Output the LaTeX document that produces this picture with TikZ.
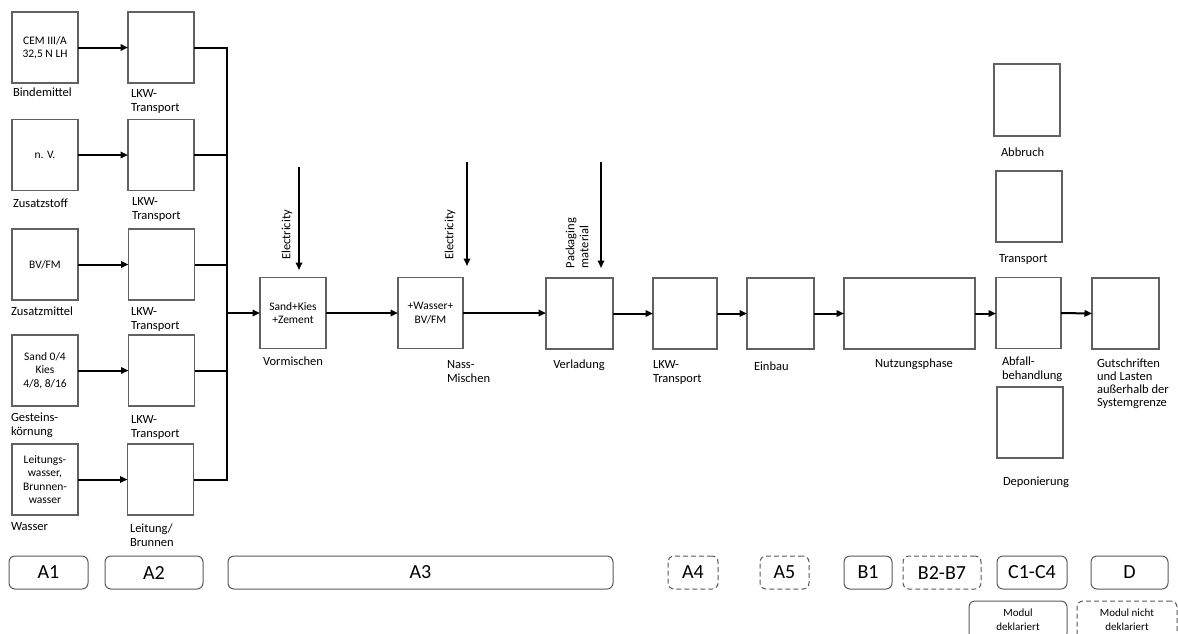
\documentclass[tikz,border=0pt]{standalone}
\usepackage{fontspec}
\setmainfont{Carlito}
\usetikzlibrary{arrows.meta}
\begin{document}
\begin{tikzpicture}[x=1pt,y=1pt,
 box/.style={draw=black!62, line width=1.1pt, inner sep=0pt, outer sep=0pt, minimum width=66pt, minimum height=71pt, align=center, font=\fontsize{11.5}{13.5}\selectfont},
 lab/.style={inner sep=0pt, outer sep=0pt, align=left, anchor=north west, font=\fontsize{12.5}{14}\selectfont},
 clab/.style={lab, anchor=north, align=center},
 conn/.style={line width=2pt, black},
 arr/.style={conn, -{Triangle[length=7.5pt,width=6.5pt]}},
 phase/.style={draw=black!65, line width=1pt, rounded corners=6pt, minimum height=33pt, inner sep=0pt, font=\fontsize{20}{24}\selectfont},
 phasedash/.style={phase, dash pattern=on 5pt off 3pt},
 legend/.style={minimum height=38pt, align=center, font=\fontsize{11}{14}\selectfont},
]
\useasboundingbox (0,-633) rectangle (1178,0);
\clip (0,-633) rectangle (1178,0);

% A1 / A2 column
\node[box] (cem) at (45,-47.5) {CEM III/A\\32,5 N LH};
\node[box] (lkw1) at (161,-47.5) {};
\node[box] (nv) at (45,-155) {n. V.};
\node[box] (lkw2) at (161,-155) {};
\node[box] (bv) at (45,-264.5) {BV/FM};
\node[box] (lkw3) at (161.5,-264.5) {};
\node[box] (sand) at (45,-370.5) {Sand 0/4\\Kies\\4/8, 8/16};
\node[box] (lkw4) at (161.5,-370.5) {};
\node[box] (wass) at (45,-479.5) {Leitungs-\\wasser,\\Brunnen-\\wasser};
\node[box] (leit) at (160.5,-479.5) {};

% main row
\node[box] (vor) at (293,-313) {Sand+Kies\\+Zement};
\node[box, minimum width=65pt] (nass) at (430.5,-313) {+Wasser+\\BV/FM};
\node[box, minimum width=67pt] (verl) at (579.5,-313.5) {};
\node[box, minimum width=64pt] (lkw5) at (685,-313.5) {};
\node[box, minimum width=67pt] (einb) at (780.5,-313.5) {};
\node[box, minimum width=131pt] (nutz) at (909.5,-313.5) {};
\node[box, minimum width=65pt] (abf) at (1028.5,-313) {};
\node[box, minimum width=67pt] (gut) at (1125.5,-313.5) {};
\node[box, minimum height=72pt] (abbr) at (1027,-100) {};
\node[box] (trans) at (1029,-206.5) {};
\node[box] (depo) at (1030,-422.5) {};

% labels
\node[lab] (lbind) at (13,-88) {Bindemittel};
\node[lab] (llkw1) at (131,-89) {LKW-\\Transport};
\node[lab] (lzst) at (13,-199) {Zusatzstoff};
\node[lab] (llkw2) at (132,-197) {LKW-\\Transport};
\node[lab] (lzm) at (11,-307) {Zusatzmittel};
\node[lab] (llkw3) at (131,-307) {LKW-\\Transport};
\node[lab] (lgk) at (11,-413) {Gesteins-\\körnung};
\node[lab] (llkw4) at (131,-415) {LKW-\\Transport};
\node[lab] (lwas) at (11,-522) {Wasser};
\node[lab] (lleit) at (130,-524) {Leitung/\\Brunnen};

\node[clab] (lvor) at (293,-357) {Vormischen};
\node[lab] (lnass) at (447,-360) {Nass-\\Mischen};
\node[clab] (lverl) at (579,-360) {Verladung};
\node[lab] (llkw5) at (653,-360) {LKW-\\Transport};
\node[lab] (leinb) at (754,-362) {Einbau};
\node[clab] (lnutz) at (914,-359) {Nutzungsphase};
\node[lab] (labf) at (1002,-357) {Abfall-\\behandlung};
\node[lab, font=\fontsize{12.5}{13}\selectfont] (lgut) at (1097,-359) {Gutschriften\\und Lasten\\außerhalb der\\Systemgrenze};
\node[lab] (labbr) at (1001,-148) {Abbruch};
\node[lab] (ltrans) at (999,-254) {Transport};
\node[lab] (ldepo) at (1003,-477) {Deponierung};

\node[lab, rotate=90, anchor=center] (el1) at (287,-235) {Electricity};
\node[lab, rotate=90, anchor=center] (el2) at (450,-235) {Electricity};
\node[lab, rotate=90, anchor=west] (pack) at (577,-268) {Packaging\\material};

% input arrows
\coordinate (e1a) at (299,-167); \coordinate (e1b) at (299,-270);
\coordinate (e2a) at (467,-162); \coordinate (e2b) at (467,-266);
\coordinate (pka) at (601,-162); \coordinate (pkb) at (601,-268);
\draw[arr] (e1a) -- (e1b);
\draw[arr] (e2a) -- (e2b);
\draw[arr] (pka) -- (pkb);

% A1 -> A2
\draw[arr] (cem.east) -- (lkw1.west);
\draw[arr] (nv.east) -- (lkw2.west);
\draw[arr] (bv.east) -- (lkw3.west);
\draw[arr] (sand.east) -- (lkw4.west);
\draw[arr] (wass.east) -- (leit.west);

% bus
\coordinate (bt) at (227,-47.5);
\coordinate (bb) at (227,-479.5);
\coordinate (bm) at (227,-313);
\draw[conn] (lkw1.east) -- (bt) -- (bb) -- (leit.east);
\draw[conn] (lkw2.east) -- (lkw2.east -| bt);
\draw[conn] (lkw3.east) -- (lkw3.east -| bt);
\draw[conn] (lkw4.east) -- (lkw4.east -| bt);
\draw[arr] (bm) -- (vor.west);

% main flow
\draw[arr] (vor.east) -- (nass.west);
\draw[arr] (nass.east) -- (nass.east -| verl.west);
\draw[arr] (verl.east) -- (lkw5.west);
\draw[arr] (lkw5.east) -- (einb.west);
\draw[arr] (einb.east) -- (nutz.west);
\draw[arr] (nutz.east) -- (nutz.east -| abf.west);
\draw[arr] (abf.east) -- (gut.west);

% phases
\node[phase, minimum width=79pt] (a1) at (48.5,-572.5) {A1};
\node[phase, minimum width=98pt] (a2) at (154,-572.5) {A2};
\node[phase, minimum width=385pt] (a3) at (420.5,-572.5) {A3};
\node[phasedash, minimum width=50pt] (a4) at (693,-572.5) {A4};
\node[phasedash, minimum width=49pt] (a5) at (784.5,-572.5) {A5};
\node[phase, minimum width=48pt] (b1) at (868,-572.5) {B1};
\node[phasedash, minimum width=78pt] (b2) at (942,-572.5) {B2-B7};
\node[phase, minimum width=70pt] (c1) at (1032,-572.5) {C1-C4};
\node[phase, minimum width=77pt] (d) at (1129.5,-572.5) {D};

\node[phase, legend, minimum width=98pt] (leg1) at (1018,-620) {Modul\\deklariert};
\node[phasedash, legend, minimum width=100pt] (leg2) at (1127,-620) {Modul nicht\\deklariert};
\end{tikzpicture}
\end{document}
